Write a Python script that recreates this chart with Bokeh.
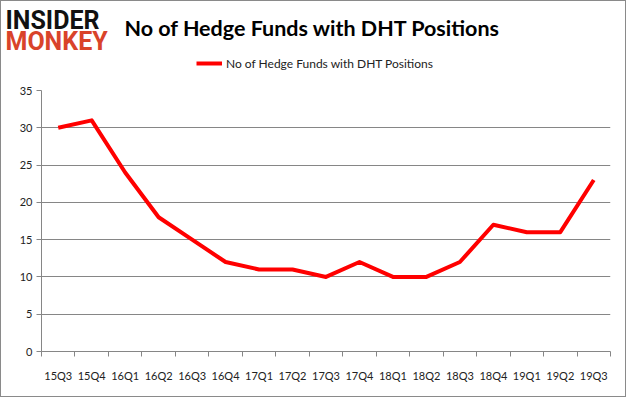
from bokeh.plotting import figure
from bokeh.layouts import column
from bokeh.models import FixedTicker, Label, Legend, LegendItem, Range1d
from bokeh.embed import file_html
from bokeh.resources import INLINE

quarters = ["15Q3", "15Q4", "16Q1", "16Q2", "16Q3", "16Q4", "17Q1", "17Q2", "17Q3",
            "17Q4", "18Q1", "18Q2", "18Q3", "18Q4", "19Q1", "19Q2", "19Q3"]
funds = [30, 31, 24, 18, 15, 12, 11, 11, 10, 12, 10, 10, 12, 17, 16, 16, 23]
y_ticks = [0, 5, 10, 15, 20, 25, 30, 35]
series_name = "No of Hedge Funds with DHT Positions"
title_text = "No of Hedge Funds with DHT Positions"

n = len(quarters)
xs = [i + 0.5 for i in range(n)]

GRAY = "#868686"
FONT = "Lato"
RED = "#ff0000"

# ---------- header: logo, title, legend ----------
head = figure(width=624, height=81, output_backend="svg", toolbar_location=None,
              x_range=Range1d(0, 624), y_range=Range1d(0, 81),
              x_axis_location=None, y_axis_location=None,
              min_border_left=0, min_border_right=0, min_border_top=0, min_border_bottom=0)
head.frame_align = False
head.grid.visible = False
head.outline_line_color = None

# hidden copy of the series, only used to draw the legend swatch
proxy = head.line(xs, funds, line_color=RED, line_width=4, visible=False)
legend = Legend(items=[LegendItem(label=series_name, renderers=[proxy])],
                location=(195, 9), orientation="horizontal",
                glyph_width=26, glyph_height=20, label_standoff=4, padding=0, margin=0,
                border_line_color=None, background_fill_alpha=0,
                label_text_font=FONT, label_text_font_size="12px", label_text_color="#222222")
head.add_layout(legend)

head.add_layout(Label(x=311, y=26, x_units="canvas", y_units="canvas", text=title_text,
                      text_align="center", text_baseline="middle", text_font=FONT,
                      text_font_style="bold", text_font_size="21.5px", text_color="#000000"))
head.add_layout(Label(x=4, y=19, x_units="canvas", y_units="canvas", text="INSIDER",
                      text_align="left", text_baseline="middle",
                      text_font="Roboto", text_font_style="bold",
                      text_font_size="25px", text_color="#111111"))
head.add_layout(Label(x=4, y=40, x_units="canvas", y_units="canvas", text="MONKEY",
                      text_align="left", text_baseline="middle",
                      text_font="Roboto", text_font_style="bold",
                      text_font_size="25px", text_color="#d9432a"))

# ---------- main chart ----------
p = figure(frame_width=569, frame_height=261, output_backend="svg", toolbar_location=None,
           x_range=Range1d(0, n), y_range=Range1d(0, 35),
           min_border_left=40, min_border_right=15, min_border_top=8, min_border_bottom=45)
p.frame_align = False
p.outline_line_color = None

p.xaxis.ticker = FixedTicker(ticks=xs, minor_ticks=list(range(n + 1)))
p.xaxis.major_label_overrides = {x: q for x, q in zip(xs, quarters)}
p.xaxis.major_tick_line_color = None
p.xaxis.minor_tick_line_color = GRAY
p.xaxis.minor_tick_out = 5
p.xaxis.minor_tick_in = 0
p.xaxis.axis_line_color = GRAY
p.xaxis.major_label_standoff = 11
p.xaxis.major_label_text_font = FONT
p.xaxis.major_label_text_font_size = "11px"
p.xaxis.major_label_text_color = "#222222"
p.xgrid.grid_line_color = None

p.yaxis.ticker = FixedTicker(ticks=y_ticks)
p.yaxis.minor_tick_line_color = None
p.yaxis.major_tick_line_color = GRAY
p.yaxis.major_tick_out = 5
p.yaxis.major_tick_in = 0
p.yaxis.axis_line_color = GRAY
p.yaxis.major_label_standoff = 4
p.yaxis.major_label_text_font = FONT
p.yaxis.major_label_text_font_size = "11px"
p.yaxis.major_label_text_color = "#222222"
p.ygrid.ticker = FixedTicker(ticks=y_ticks)
p.ygrid.grid_line_color = GRAY
p.ygrid.grid_line_width = 1

p.line(xs, funds, line_color=RED, line_width=4, line_join="round")

layout = column(head, p, spacing=0, styles={"border": "1px solid #8a8a8a"})
open("out.html", "w").write(file_html(layout, INLINE))
